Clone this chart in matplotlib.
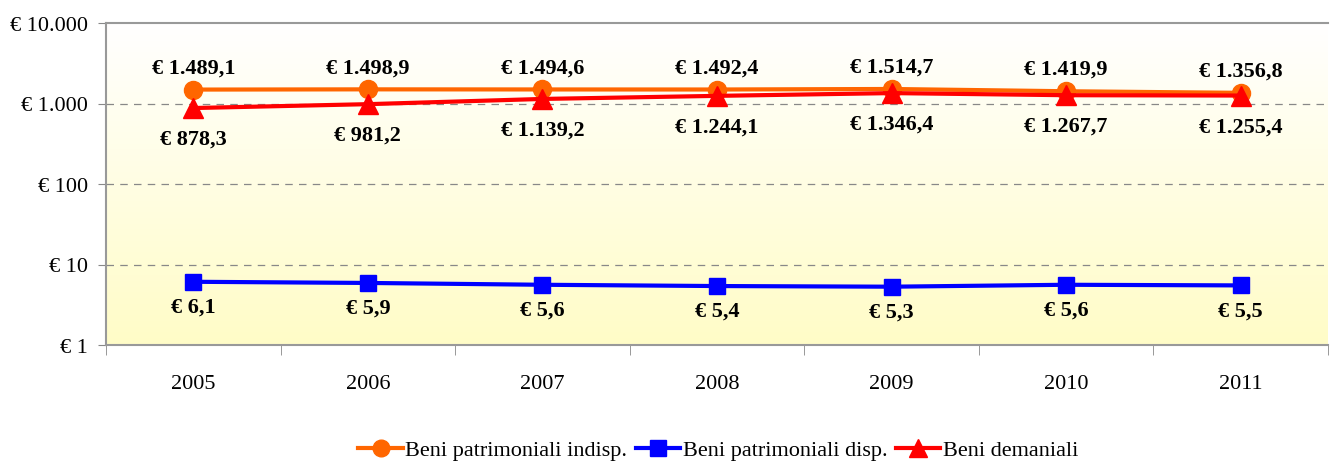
import numpy as np
import matplotlib.pyplot as plt
from matplotlib.lines import Line2D

years = ["2005", "2006", "2007", "2008", "2009", "2010", "2011"]
indisp = [1489.1, 1498.9, 1494.6, 1492.4, 1514.7, 1419.9, 1356.8]
disp = [6.1, 5.9, 5.6, 5.4, 5.3, 5.6, 5.5]
demaniali = [878.3, 981.2, 1139.2, 1244.1, 1346.4, 1267.7, 1255.4]
y_ticks = [1, 10, 100, 1000, 10000]
y_tick_labels = ["€ 1", "€ 10", "€ 100", "€ 1.000", "€ 10.000"]

plt.rcParams['font.family'] = ['Liberation Serif', 'DejaVu Serif']


def euro(v):
    # Italian style: dot for thousands, comma for decimals
    s = f"{v:,.1f}"
    s = s.replace(",", "X").replace(".", ",").replace("X", ".")
    return "€ " + s


fig = plt.figure(figsize=(13.3, 4.64), dpi=100)
ax = fig.add_axes([106 / 1330, 118 / 464, 1222 / 1330, 322 / 464])

x = np.arange(len(years))

# gradient background, white at top to pale yellow at bottom
grad = np.linspace(0, 1, 256).reshape(-1, 1)
top = np.array([1.0, 1.0, 1.0])
bot = np.array([1.0, 0.99, 0.78])
img = top + (bot - top) * grad[:, :, None] * np.ones((1, 1, 3))
ax.imshow(img, extent=[0, 1, 0, 1], transform=ax.transAxes, aspect='auto',
          zorder=0, origin='upper')

ax.set_yscale('log')
ax.set_ylim(1, 10000)
ax.set_xlim(-0.5, len(years) - 0.5)

for yv in [10, 100, 1000]:
    ax.axhline(yv, color='#888888', lw=0.9, ls=(0, (6, 5)), zorder=1)

ax.plot(x, indisp, color='#FF6600', lw=3, marker='o', ms=13, zorder=3)
ax.plot(x, disp, color='#0000FF', lw=3, marker='s', ms=12, zorder=3)
ax.plot(x, demaniali, color='#FF0000', lw=3, marker='^', ms=14, zorder=4)

lab = dict(textcoords='offset points', ha='center', va='center',
           fontsize=16, fontweight='bold', zorder=5)
for i in range(len(years)):
    ax.annotate(euro(indisp[i]), (x[i], indisp[i]), xytext=(0, 16), **lab)
    ax.annotate(euro(demaniali[i]), (x[i], demaniali[i]), xytext=(0, -22), **lab)
    ax.annotate(euro(disp[i]), (x[i], disp[i]), xytext=(0, -18), **lab)

ax.set_yticks(y_ticks)
ax.set_yticklabels(y_tick_labels, fontsize=16)
ax.yaxis.set_minor_locator(plt.NullLocator())
ax.tick_params(axis='y', length=6, color='#888888', pad=7)

ax.set_xticks(x)
ax.set_xticklabels(years, fontsize=16)
ax.set_xticks(np.arange(-0.5, len(years)), minor=True)
ax.tick_params(axis='x', which='major', length=0, pad=21)
ax.tick_params(axis='x', which='minor', length=7, color='#888888')

for sp in ax.spines.values():
    sp.set_color('#999999')
    sp.set_linewidth(1.5)
ax.spines['right'].set_visible(False)

handles = [
    Line2D([], [], color='#FF6600', lw=3, marker='o', ms=12),
    Line2D([], [], color='#0000FF', lw=3, marker='s', ms=11),
    Line2D([], [], color='#FF0000', lw=3, marker='^', ms=13),
]
labels = ["Beni patrimoniali indisp.", "Beni patrimoniali disp.", "Beni demaniali"]
fig.legend(handles, labels, loc='center', bbox_to_anchor=(0.54, 0.028), ncol=3,
           frameon=False, fontsize=16, handlelength=2.0, handletextpad=0.1,
           columnspacing=0.4)

fig.savefig("out.png", dpi=100)
